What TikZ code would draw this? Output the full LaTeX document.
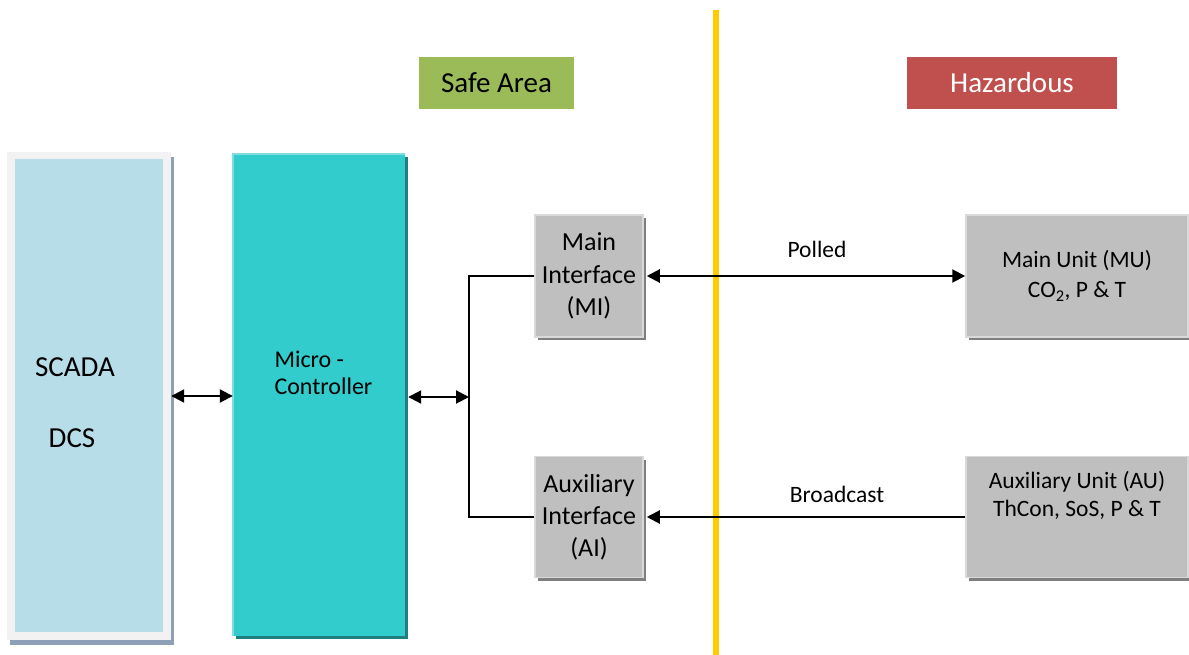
\documentclass[tikz,border=0pt]{standalone}
\usepackage{fontspec}
\setmainfont{Carlito}
\usetikzlibrary{arrows.meta,shadows}
\definecolor{scadablue}{HTML}{B7DEE8}
\definecolor{scadarim}{HTML}{F2F2F2}
\definecolor{scadashade}{HTML}{8EA0B8}
\definecolor{mcteal}{HTML}{33CCCC}
\definecolor{mcshade}{HTML}{1F7F80}
\definecolor{mcrim}{HTML}{80DEDE}
\definecolor{boxgray}{HTML}{BFBFBF}
\definecolor{boxshade}{HTML}{7F7F7F}
\definecolor{boxrim}{HTML}{D9D9D9}
\definecolor{safegreen}{HTML}{9BBB59}
\definecolor{hazred}{HTML}{C0504D}
\definecolor{zoneline}{HTML}{FFCC00}

\begin{document}
\begin{tikzpicture}[x=1pt,y=-1pt,
    unit/.style={rectangle,fill=boxgray,draw=boxrim,line width=1.5pt,inner sep=0pt,
      drop shadow={shadow xshift=3pt,shadow yshift=-3pt,opacity=1,fill=boxshade}},
    tag/.style={rectangle,inner sep=0pt,minimum height=52,font=\fontsize{29}{34}\selectfont},
    big/.style={font=\fontsize{29}{34}\selectfont},
    small/.style={font=\fontsize{23.5}{28}\selectfont},
    link/.style={line width=2pt},
    oneway/.style={-{Triangle[length=13pt,width=13pt]}},
    twoway/.style={{Triangle[length=13pt,width=13pt]}-{Triangle[length=13pt,width=13pt]}}]
    \useasboundingbox (0,0) rectangle (1189,655);
    \coordinate (ztop) at (716,10);
    \coordinate (zbot) at (716,655);
    \draw [zoneline, line width=6pt] (ztop) -- (zbot);
    \node (safe) at (496.5,83) [tag, fill=safegreen, minimum width=155] {Safe Area};
    \node (haz) at (1012,83) [tag, fill=hazred, text=white, minimum width=210] {Hazardous};
    \node (scadarim) at (89,396) [rectangle, fill=scadarim, inner sep=0pt,
      minimum width=164, minimum height=488,
      drop shadow={shadow xshift=3pt,shadow yshift=-5pt,opacity=1,fill=scadashade}] {};
    \node (scada) at (89,395.5) [rectangle, fill=scadablue, inner sep=0pt,
      minimum width=148, minimum height=473] {};
    \node (scadatxt) at (75,367) [big] {SCADA};
    \node (dcstxt) at (72,438) [big] {DCS};
    \node (mc) at (319,395) [rectangle, fill=mcteal, inner sep=0pt,
      minimum width=172, minimum height=482,
      drop shadow={shadow xshift=3pt,shadow yshift=-3pt,opacity=1,fill=mcshade}] {};
    \draw [mcrim, line width=2pt] (mc.south west) -- (mc.north west) -- (mc.north east);
    \node (mctxt) at (271,373) [anchor=west, align=left,
      font=\fontsize{24}{27}\selectfont] {Micro -\\Controller};
    \node (MI) at (589,276) [unit, minimum width=108, minimum height=122, align=center,
      font=\fontsize{26}{32.5}\selectfont] {Main\\Interface\\(MI)};
    \node (AI) at (589,517) [unit, minimum width=108, minimum height=121, align=center,
      font=\fontsize{26}{32}\selectfont] {Auxiliary\\Interface\\(AI)};
    \node (MU) at (1077,276) [unit, minimum width=222, minimum height=122, align=center,
      font=\fontsize{23.5}{30}\selectfont] {Main Unit (MU)\\CO\textsubscript{2}, P \& T};
    \node (AU) at (1077,517) [unit, minimum width=222, minimum height=121] {};
    \node (AUtxt) at (1077,495) [align=center, font=\fontsize{23.5}{28}\selectfont]
      {Auxiliary Unit (AU)\\ThCon, SoS, P \& T};
    \coordinate (bus) at (469,397);
    \draw [link, twoway] (scadarim.east) -- (scadarim.east -| mc.west);
    \draw [link, twoway, shorten <=3pt] (mc.east |- bus) -- (bus);
    \draw [link] (MI.west) -| (bus) |- (AI.west);
    \draw [link, twoway, shorten <=3pt] (MI.east) -- (MU.west);
    \draw [link, oneway, shorten >=3pt] (AU.west) -- (AI.east);
    \node (polled) at (817,249) [small] {Polled};
    \node (bcast) at (837,494) [small] {Broadcast};
\end{tikzpicture}
\end{document}
